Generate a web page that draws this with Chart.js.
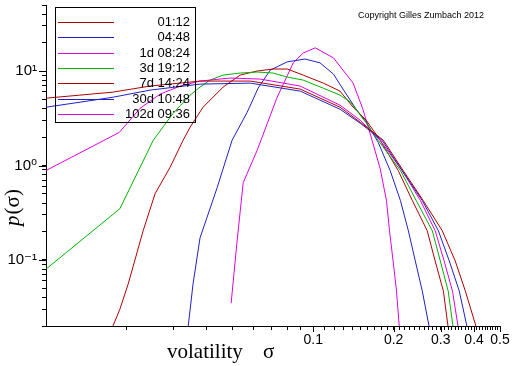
<!DOCTYPE html>
<html><head><meta charset="utf-8">
<script src="https://cdn.jsdelivr.net/npm/chart.js@4.4.0/dist/chart.umd.min.js"></script>
<style>html,body{margin:0;padding:0;background:#fff;overflow:hidden}canvas{display:block}</style>
</head><body>
<canvas id="c" width="512" height="366" style="width:512px;height:366px"></canvas>
<script>
// ---- data ----
const seriesLabels = ['01:12','04:48','1d 08:24','3d 19:12','7d 14:24','30d 10:48','102d 09:36'];

const sigma_0112 = [0.0100,0.0134,0.0178,0.0245,0.0377,0.0581,0.0894,0.126,0.150,0.183,0.217,0.258,0.304,0.340,0.371,0.408,0.422];
const p_0112     = [5.16,5.56,5.98,6.93,7.83,7.83,6.44,4.14,2.87,1.85,0.885,0.425,0.204,0.0975,0.0468,0.0192,0.0137];

const sigma_0448 = [0.0100,0.0134,0.0178,0.0245,0.0377,0.0581,0.0894,0.126,0.150,0.181,0.215,0.256,0.294,0.323,0.352,0.377,0.387];
const p_0448     = [4.14,4.68,5.28,6.28,7.27,7.45,6.13,3.94,2.80,1.85,0.885,0.425,0.204,0.0975,0.0468,0.0192,0.0137];

const sigma_1d0824 = [0.0100,0.0188,0.0225,0.0267,0.0318,0.0377,0.0489,0.0633,0.0894,0.126,0.150,0.178,0.215,0.252,0.286,0.309,0.332,0.349,0.358];
const p_1d0824     = [0.885,2.24,4.03,5.69,6.93,7.83,8.43,8.22,6.93,4.35,3.01,1.85,0.885,0.425,0.204,0.0975,0.0468,0.0192,0.0137];

const sigma_3d1912 = [0.0100,0.0189,0.0252,0.0299,0.0346,0.0377,0.0411,0.0460,0.0533,0.0617,0.0708,0.0799,0.0917,0.109,0.126,0.138,0.157,0.175,0.212,0.243,0.279,0.299,0.320,0.334,0.343];
const p_3d1912     = [0.080,0.349,1.85,3.57,5.56,6.76,8.02,9.06,9.52,9.76,9.52,8.63,8.02,6.59,5.56,4.68,2.87,1.85,0.885,0.425,0.204,0.0975,0.0468,0.0192,0.0137];

const sigma_7d1424 = [0.0171,0.0177,0.0189,0.0203,0.0231,0.0256,0.0291,0.0326,0.0346,0.0387,0.0460,0.0533,0.0617,0.0708,0.0799,0.0917,0.109,0.126,0.141,0.158,0.178,0.208,0.235,0.267,0.286,0.307,0.320,0.329];
const p_7d1424     = [0.0137,0.0192,0.0301,0.0556,0.204,0.503,0.953,1.85,2.54,4.14,6.76,9.06,10.0,10.5,10.5,9.06,7.45,6.13,4.14,3.01,1.85,0.885,0.425,0.204,0.0975,0.0468,0.0192,0.0137];

const sigma_30d1048 = [0.0332,0.0340,0.0355,0.0377,0.0437,0.0497,0.0566,0.0622,0.0690,0.0799,0.0933,0.106,0.119,0.130,0.144,0.158,0.175,0.194,0.212,0.227,0.241,0.256,0.272,0.277];
const p_30d1048     = [0.0122,0.0192,0.0556,0.171,0.583,1.85,3.66,6.59,10.2,12.5,13.4,12.2,9.29,6.28,4.03,2.87,1.76,0.885,0.425,0.204,0.0975,0.0468,0.0192,0.0137];

const sigma_102d0936 = [0.0493,0.0519,0.0547,0.0617,0.0733,0.0842,0.0917,0.1017,0.119,0.141,0.153,0.164,0.178,0.188,0.193,0.199,0.205,0.210,0.212];
const p_102d0936     = [0.0349,0.159,0.659,1.45,5.28,12.2,15.5,17.6,13.8,7.45,4.03,2.09,0.929,0.425,0.204,0.0975,0.0468,0.0192,0.0137];

// ---- ticks ----
const xMajorTicks  = [0.1,0.2,0.3,0.4,0.5];
const xMajorLabels = ['0.1','0.2','0.3','0.4','0.5'];
const yMajorTicks  = [0.1,1,10];
const yMajorLabels = ['10\u207B\u00B9','10\u2070','10\u00B9'];
const yMinorTicks  = [0.02,0.03,0.04,0.05,0.06,0.07,0.08,0.09,0.2,0.3,0.4,0.5,0.6,0.7,0.8,0.9,2,3,4,5,6,7,8,9,20,30,40,50];
const xMinorTicks = [];
for (let k = 2; k <= 49; k++) { if (k % 10 !== 0 && k!==50) xMinorTicks.push(k/100); }

// ---- styles ----
const seriesColors = ['#b00000','#2020c8','#e000e0','#00b400','#b00000','#2020c8','#e000e0'];
const sigmaArrays = [sigma_0112,sigma_0448,sigma_1d0824,sigma_3d1912,sigma_7d1424,sigma_30d1048,sigma_102d0936];
const pArrays     = [p_0112,p_0448,p_1d0824,p_3d1912,p_7d1424,p_30d1048,p_102d0936];

const datasets = seriesLabels.map((lab,i)=>({
  label: lab,
  data: sigmaArrays[i].map((s,j)=>({x:s,y:pArrays[i][j]})),
  borderColor: seriesColors[i],
  borderWidth: 1,
  pointRadius: 0,
  showLine: true,
  tension: 0,
  fill: false
}));

const xAllTicks = xMinorTicks.concat(xMajorTicks).sort((a,b)=>a-b);
const yAllTicks = yMinorTicks.concat(yMajorTicks).sort((a,b)=>a-b);
function labelFor(v, vals, labs){ for(let i=0;i<vals.length;i++){ if(Math.abs(vals[i]-v)<1e-9*Math.max(1,v)) return labs[i]; } return ''; }

const majorTickPlugin = {
  id:'majorTicks',
  afterDraw(chart){
    const {ctx, chartArea:a} = chart; const xs=chart.scales.x, ys=chart.scales.y;
    ctx.save(); ctx.strokeStyle='#000'; ctx.lineWidth=1; ctx.beginPath();
    yMajorTicks.forEach(v=>{ const py=Math.round(ys.getPixelForValue(v))+0.5; ctx.moveTo(a.left-7,py); ctx.lineTo(a.left,py); });
    xMajorTicks.forEach(v=>{ const px=Math.round(xs.getPixelForValue(v))+0.5; ctx.moveTo(px,a.bottom); ctx.lineTo(px,a.bottom+6); });
    ctx.stroke(); ctx.restore();
  }
};

const textPlugin = {
  id:'texts',
  afterDraw(chart){
    const ctx = chart.ctx;
    ctx.save();
    ctx.fillStyle='#000';
    // copyright
    ctx.font='9px "Liberation Sans", Arial, sans-serif';
    ctx.textBaseline='middle'; ctx.textAlign='left';
    ctx.fillText('Copyright Gilles Zumbach 2012', 358, 16);
    // x title
    ctx.font='21px "Liberation Serif", "Times New Roman", serif';
    ctx.textBaseline='alphabetic';
    ctx.fillText('volatility', 167, 358);
    ctx.fillText('\u03C3', 263, 358);
    // y title
    ctx.translate(19, 208); ctx.rotate(-Math.PI/2);
    const f1='italic 21px "Liberation Serif", serif', f2='21px "Liberation Serif", serif';
    ctx.font=f1; const w1=ctx.measureText('p').width;
    ctx.font=f2; const w2=ctx.measureText('(\u03C3)').width;
    const x0=-(w1+w2)/2;
    ctx.font=f1; ctx.fillText('p', x0, 0);
    ctx.font=f2; ctx.fillText('(\u03C3)', x0+w1+1, 0);
    ctx.restore();
  }
};

const legendPlugin = {
  id:'boxLegend',
  afterDraw(chart){
    const ctx=chart.ctx;
    ctx.save();
    ctx.strokeStyle='#000'; ctx.lineWidth=1;
    ctx.strokeRect(55.5,7.5,140,115);
    ctx.font='13px "Liberation Sans", Arial, sans-serif';
    ctx.textAlign='right'; ctx.textBaseline='middle';
    chart.data.datasets.forEach((ds,i)=>{
      const y=Math.round(22+15.3*i)+0.5;
      ctx.strokeStyle=ds.borderColor; ctx.beginPath(); ctx.moveTo(58,y); ctx.lineTo(114,y); ctx.stroke();
      ctx.fillStyle='#000'; ctx.fillText(ds.label, 190, y-0.5);
    });
    ctx.restore();
  }
};

new Chart(document.getElementById('c'), {
  type:'scatter',
  data:{datasets},
  options:{
    responsive:false, animation:false, devicePixelRatio:1,
    layout:{padding:{top:5,right:12,left:0,bottom:0}},
    plugins:{legend:{display:false},tooltip:{enabled:false}},
    scales:{
      x:{
        type:'logarithmic', min:0.01, max:0.5, position:'bottom',
        afterBuildTicks(s){ s.ticks = xAllTicks.map(v=>({value:v})); },
        afterFit(s){ s.height=40; s.paddingLeft=0; s.paddingRight=0; },
        ticks:{ autoSkip:false, maxRotation:0, minRotation:0, padding:2, color:'#000',
          font:{family:'"Liberation Sans", Arial, sans-serif', size:14},
          callback(v){ return labelFor(v, xMajorTicks, xMajorLabels); } },
        grid:{ drawOnChartArea:false, drawTicks:true, tickLength:4, tickColor:'#000', tickWidth:1 },
        border:{ display:true, color:'#000', width:1 }
      },
      y:{
        type:'logarithmic', min:0.02, max:50, position:'left',
        afterBuildTicks(s){ s.ticks = yAllTicks.map(v=>({value:v})); },
        afterFit(s){ s.width=46; s.paddingTop=0; s.paddingBottom=0; },
        ticks:{ autoSkip:false, padding:5, color:'#000',
          font:{family:'"Liberation Sans", "DejaVu Sans", Arial, sans-serif', size:15},
          callback(v){ return labelFor(v, yMajorTicks, yMajorLabels); } },
        grid:{ drawOnChartArea:false, drawTicks:true, tickLength:4, tickColor:'#000', tickWidth:1 },
        border:{ display:true, color:'#000', width:1 }
      }
    }
  },
  plugins:[majorTickPlugin, textPlugin, legendPlugin]
});
</script>
</body></html>
